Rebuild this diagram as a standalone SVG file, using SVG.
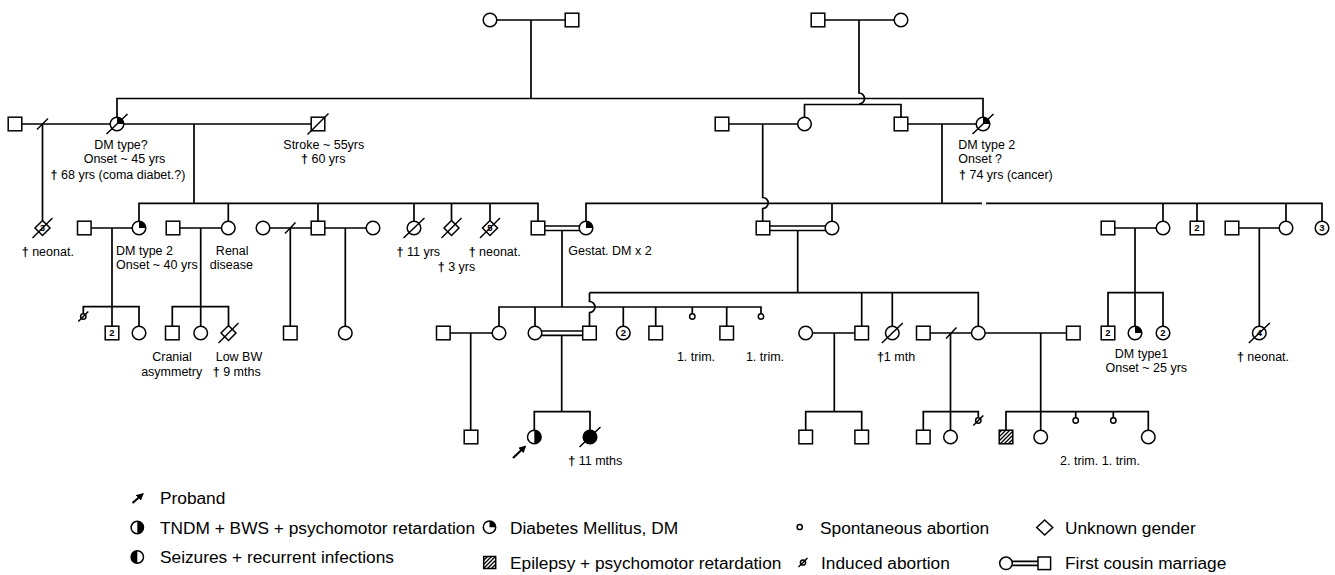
<svg xmlns="http://www.w3.org/2000/svg" width="1335" height="575" viewBox="0 0 1335 575">
<style>
.sy{fill:#fff;stroke:#000;stroke-width:1.5}
.k{fill:#000;stroke:none}
.ln{fill:none;stroke:#000;stroke-width:1.7}
.sl{fill:none;stroke:#000;stroke-width:1.5}
.t{font-family:"Liberation Sans",Arial,Helvetica,sans-serif;font-size:12.5px;fill:#000}
.m{text-anchor:middle}
.b{font-weight:bold}
.num{font-family:"Liberation Sans",Arial,Helvetica,sans-serif;font-size:9.5px;font-weight:bold;text-anchor:middle;fill:#000}
.lg{font-family:"Liberation Sans",Arial,Helvetica,sans-serif;font-size:17.3px;fill:#000}
.ar{fill:none;stroke:#000;stroke-width:2.2;marker-end:url(#arr)}
</style>
<defs>
<marker id="arr" viewBox="0 0 10 10" refX="3" refY="5" markerWidth="3.4" markerHeight="3.4" orient="auto"><path d="M0,0L10,5L0,10z" fill="#000"/></marker>
<pattern id="hatch" patternUnits="userSpaceOnUse" width="4" height="4"><path d="M-1,1L1,-1M0,4L4,0M3,5L5,3" stroke="#000" stroke-width="1.3"/></pattern>
</defs>
<rect width="1335" height="575" fill="#fff"/>

<g id="connectors">
<path class="ln" d="M496.8,20H565.2M531,20V98.5M825,20H894.2M859,20V93a5.5,5.5 0 0 1 0,11"/>
<path class="ln" d="M117,117.2V98.5H983V117.2M804.5,117.2V104.5H901V117.2"/>
<path class="ln" d="M21.8,124H110.2M123.8,124H311.2M42.5,124V220.5M194,124V203.3"/>
<path class="sl" d="M37,129.5L48,118.5"/>
<path class="ln" d="M728.8,124H797.7M762.7,124V197.5a5.5,5.5 0 0 1 0,11V221.2M907.8,124H976.2M942,124V203.3"/>
<path class="ln" d="M139,221.2V203.3H538V221.2M228.3,203.3V221.2M318,203.3V221.2M414,203.3V221.2M451.5,203.3V220.5M490,203.3V220.5"/>
<path class="ln" d="M586,221.2V203.3H982M986,203.3H1322V221.2M832,203.3V221.2M1163,203.3V221.2M1197,203.3V221.2M1286,203.3V221.2"/>
<path class="ln" d="M91.1,228H132.2M112,228V326.2M83.3,313.8V306.7H139V326.2"/>
<path class="ln" d="M179.8,228H221.5M200.7,228V326.2M172.3,326.2V306.7H228.5V325.5"/>
<path class="ln" d="M269.8,228H311.2M290.3,228V326.2M324.8,228H366.2M345.3,228V326.2"/>
<path class="sl" d="M285,233.5L295.5,222.5"/>
<path class="ln" d="M544.8,226H579.5M544.8,230.5H579.5M562,230.5V307"/>
<path class="ln" d="M769.8,226H825.5M769.8,230.5H825.5M797.7,230.5V292.7"/>
<path class="ln" d="M1114.8,228H1156.2M1135,228V326.2M1108,326.2V292.7H1163V326.2"/>
<path class="ln" d="M1238.8,228H1279.2M1259.3,228V326.2"/>
<path class="ln" d="M499,326.2V307H761V313.8M535,307V326.2M623.3,307V326.2M655.7,307V326.2M692.3,307V313.8M726.7,307V326.2"/>
<path class="ln" d="M589.5,292.7V301.5a5.5,5.5 0 0 1 0,11V326.2M589.5,292.7H978.3V326.2M861.7,292.7V326.2M892.3,292.7V326.2"/>
<path class="ln" d="M450.1,333H492.2M470.7,333V430.2"/>
<path class="ln" d="M541.8,331H582.7M541.8,335.3H582.7M561.7,335.3V411.7M534.3,430.2V411.7H590V430.2"/>
<path class="ln" d="M812.5,333H854.9M834.3,333V411.7M805.7,430.2V411.7H861.7V430.2"/>
<path class="ln" d="M930.1,333H971.5M950.5,333V430.2M923.3,430.2V411.7H978.3V417.8"/>
<path class="sl" d="M946,338.5L956.5,327.5"/>
<path class="ln" d="M985.1,333H1066.5M1040.7,333V430.2M1006,430.2V411.7H1148.3V430.2M1075.7,411.7V417.8M1113.3,411.7V417.8"/>
</g>

<g id="I-1"><circle class="sy" cx="490" cy="20" r="6.8"/></g>
<g id="I-2"><rect class="sy" x="565.2" y="13.2" width="13.6" height="13.6"/></g>
<g id="I-3"><rect class="sy" x="811.2" y="13.2" width="13.6" height="13.6"/></g>
<g id="I-4"><circle class="sy" cx="901" cy="20" r="6.8"/></g>

<g id="II-1"><rect class="sy" x="8.2" y="117.2" width="13.6" height="13.6"/></g>
<g id="II-2"><circle class="sy" cx="117" cy="124" r="6.8"/><path class="k" d="M117,124V117.2A6.8,6.8 0 0 1 123.8,124Z"/><path class="sl" d="M106.5,134L127.5,114"/>
<text class="t m" x="121" y="149.3">DM type?</text><text class="t m" x="124.5" y="163.3">Onset ~ 45 yrs</text><text class="t m" x="118" y="179"><tspan class="b">†</tspan> 68 yrs (coma diabet.?)</text></g>
<g id="II-3"><rect class="sy" x="311.2" y="117.2" width="13.6" height="13.6"/><path class="sl" d="M307.5,134.5L328.5,113.5"/>
<text class="t m" x="323.8" y="149.3">Stroke ~ 55yrs</text><text class="t m" x="323.3" y="163.3"><tspan class="b">†</tspan> 60 yrs</text></g>
<g id="II-4"><rect class="sy" x="715.2" y="117.2" width="13.6" height="13.6"/></g>
<g id="II-5"><circle class="sy" cx="804.5" cy="124" r="6.8"/></g>
<g id="II-6"><rect class="sy" x="894.2" y="117.2" width="13.6" height="13.6"/></g>
<g id="II-7"><circle class="sy" cx="983" cy="124" r="6.8"/><path class="k" d="M983,124V117.2A6.8,6.8 0 0 1 989.8,124Z"/><path class="sl" d="M972.5,134L993.5,114"/>
<text class="t" x="958.3" y="149.3">DM type 2</text><text class="t" x="958.3" y="163.3">Onset ?</text><text class="t" x="959" y="179"><tspan class="b">†</tspan> 74 yrs (cancer)</text></g>

<g id="III-1"><polygon class="sy" points="42.5,220.5 50,228 42.5,235.5 35,228"/><text class="num" x="42.5" y="231.4">3</text><path class="sl" d="M32.5,238L52.5,218"/>
<text class="t m" x="47.8" y="255.5"><tspan class="b">†</tspan> neonat.</text></g>
<g id="III-2"><rect class="sy" x="77.5" y="221.2" width="13.6" height="13.6"/></g>
<g id="III-3"><circle class="sy" cx="139" cy="228" r="6.8"/><path class="k" d="M139,228V221.2A6.8,6.8 0 0 1 145.8,228Z"/>
<text class="t" x="116" y="255">DM type 2</text><text class="t" x="116" y="269">Onset ~ 40 yrs</text></g>
<g id="III-4"><rect class="sy" x="166.2" y="221.2" width="13.6" height="13.6"/></g>
<g id="III-5"><circle class="sy" cx="228.3" cy="228" r="6.8"/><text class="t m" x="232.2" y="255">Renal</text><text class="t m" x="231.3" y="269">disease</text></g>
<g id="III-6"><circle class="sy" cx="263" cy="228" r="6.8"/></g>
<g id="III-7"><rect class="sy" x="311.2" y="221.2" width="13.6" height="13.6"/></g>
<g id="III-8"><circle class="sy" cx="373" cy="228" r="6.8"/></g>
<g id="III-9"><circle class="sy" cx="414" cy="228" r="6.8"/><path class="sl" d="M403.5,238L424.5,218"/><text class="t m" x="418.3" y="255.5"><tspan class="b">†</tspan> 11 yrs</text></g>
<g id="III-10"><polygon class="sy" points="451.5,220.5 459,228 451.5,235.5 444,228"/><path class="sl" d="M441.5,238L461.5,218"/><text class="t m" x="456.5" y="270.5"><tspan class="b">†</tspan> 3 yrs</text></g>
<g id="III-11"><polygon class="sy" points="490,220.5 497.5,228 490,235.5 482.5,228"/><text class="num" x="490" y="231.4">5</text><path class="sl" d="M480,238L500,218"/><text class="t m" x="494.7" y="255.5"><tspan class="b">†</tspan> neonat.</text></g>
<g id="III-12"><rect class="sy" x="531.2" y="221.2" width="13.6" height="13.6"/></g>
<g id="III-13"><circle class="sy" cx="586" cy="228" r="6.8"/><path class="k" d="M586,228V221.2A6.8,6.8 0 0 1 592.8,228Z"/><text class="t" x="568.3" y="254.5">Gestat. DM x 2</text></g>
<g id="III-14"><rect class="sy" x="756.2" y="221.2" width="13.6" height="13.6"/></g>
<g id="III-15"><circle class="sy" cx="832" cy="228" r="6.8"/></g>
<g id="III-16"><rect class="sy" x="1101.2" y="221.2" width="13.6" height="13.6"/></g>
<g id="III-17"><circle class="sy" cx="1163" cy="228" r="6.8"/></g>
<g id="III-18"><rect class="sy" x="1190.2" y="221.2" width="13.6" height="13.6"/><text class="num" x="1197" y="231.4">2</text></g>
<g id="III-19"><rect class="sy" x="1225.2" y="221.2" width="13.6" height="13.6"/></g>
<g id="III-20"><circle class="sy" cx="1286" cy="228" r="6.8"/></g>
<g id="III-21"><circle class="sy" cx="1322" cy="228" r="6.8"/><text class="num" x="1322" y="231.4">3</text></g>

<g id="IV-1"><circle class="sy" cx="83.3" cy="316.5" r="2.7"/><path class="sl" d="M78.3,321.5L88.3,311.5"/></g>
<g id="IV-2"><rect class="sy" x="105.2" y="326.2" width="13.6" height="13.6"/><text class="num" x="112" y="336.4">2</text></g>
<g id="IV-3"><circle class="sy" cx="139" cy="333" r="6.8"/></g>
<g id="IV-4"><rect class="sy" x="165.5" y="326.2" width="13.6" height="13.6"/><text class="t m" x="172" y="360.7">Cranial</text><text class="t m" x="171.7" y="375.7">asymmetry</text></g>
<g id="IV-5"><circle class="sy" cx="200.7" cy="333" r="6.8"/></g>
<g id="IV-6"><polygon class="sy" points="228.5,325.5 236,333 228.5,340.5 221,333"/><path class="sl" d="M218.5,343L238.5,323"/><text class="t m" x="239" y="360.7">Low BW</text><text class="t m" x="236.7" y="375.7"><tspan class="b">†</tspan> 9 mths</text></g>
<g id="IV-7"><rect class="sy" x="283.5" y="326.2" width="13.6" height="13.6"/></g>
<g id="IV-8"><circle class="sy" cx="345.3" cy="333" r="6.8"/></g>
<g id="IV-9"><rect class="sy" x="436.5" y="326.2" width="13.6" height="13.6"/></g>
<g id="IV-10"><circle class="sy" cx="499" cy="333" r="6.8"/></g>
<g id="IV-11"><circle class="sy" cx="535" cy="333" r="6.8"/></g>
<g id="IV-12"><rect class="sy" x="582.7" y="326.2" width="13.6" height="13.6"/></g>
<g id="IV-13"><circle class="sy" cx="623.3" cy="333" r="6.8"/><text class="num" x="623.3" y="336.4">2</text></g>
<g id="IV-14"><rect class="sy" x="648.9" y="326.2" width="13.6" height="13.6"/></g>
<g id="IV-15"><circle class="sy" cx="692.3" cy="316.5" r="2.7"/><text class="t m" x="696" y="361">1. trim.</text></g>
<g id="IV-16"><rect class="sy" x="719.9" y="326.2" width="13.6" height="13.6"/></g>
<g id="IV-17"><circle class="sy" cx="761" cy="316.5" r="2.7"/><text class="t m" x="765" y="361">1. trim.</text></g>
<g id="IV-18"><circle class="sy" cx="805.7" cy="333" r="6.8"/></g>
<g id="IV-19"><rect class="sy" x="854.9" y="326.2" width="13.6" height="13.6"/></g>
<g id="IV-20"><circle class="sy" cx="892.3" cy="333" r="6.8"/><path class="sl" d="M881.8,343L902.8,323"/><text class="t m" x="896" y="360.7"><tspan class="b">†</tspan>1 mth</text></g>
<g id="IV-21"><rect class="sy" x="916.5" y="326.2" width="13.6" height="13.6"/></g>
<g id="IV-22"><circle class="sy" cx="978.3" cy="333" r="6.8"/></g>
<g id="IV-23"><rect class="sy" x="1066.5" y="326.2" width="13.6" height="13.6"/></g>
<g id="IV-24"><rect class="sy" x="1101.2" y="326.2" width="13.6" height="13.6"/><text class="num" x="1108" y="336.4">2</text></g>
<g id="IV-25"><circle class="sy" cx="1135" cy="333" r="6.8"/><path class="k" d="M1135,333V326.2A6.8,6.8 0 0 1 1141.8,333Z"/><text class="t m" x="1141.5" y="357.7">DM type1</text><text class="t m" x="1146.3" y="371.7">Onset ~ 25 yrs</text></g>
<g id="IV-26"><circle class="sy" cx="1163" cy="333" r="6.8"/><text class="num" x="1163" y="336.4">2</text></g>
<g id="IV-27"><circle class="sy" cx="1259.3" cy="333" r="6.8"/><text class="num" x="1259.3" y="336.4">4</text><path class="sl" d="M1248.8,343L1269.8,323"/><text class="t m" x="1263" y="360.7"><tspan class="b">†</tspan> neonat.</text></g>

<g id="V-1"><rect class="sy" x="464.2" y="430.2" width="13.6" height="13.6"/></g>
<g id="V-2"><circle class="sy" cx="534.3" cy="437" r="6.8"/><path class="k" d="M534.3,430.2A6.8,6.8 0 0 1 534.3,443.8Z"/><path class="ar" d="M513,458L522.5,449"/></g>
<g id="V-3"><circle cx="590" cy="437" r="6.8" fill="#000" stroke="#000" stroke-width="1.5"/><path class="sl" d="M579.5,447L600.5,427"/><text class="t m" x="595.3" y="465"><tspan class="b">†</tspan> 11 mths</text></g>
<g id="V-4"><rect class="sy" x="798.9" y="430.2" width="13.6" height="13.6"/></g>
<g id="V-5"><rect class="sy" x="854.9" y="430.2" width="13.6" height="13.6"/></g>
<g id="V-6"><rect class="sy" x="916.5" y="430.2" width="13.6" height="13.6"/></g>
<g id="V-7"><circle class="sy" cx="950.5" cy="437" r="6.8"/></g>
<g id="V-8"><circle class="sy" cx="978.3" cy="420.5" r="2.7"/><path class="sl" d="M973.3,425.5L983.3,415.5"/></g>
<g id="V-9"><rect x="999.2" y="430.2" width="13.6" height="13.6" fill="url(#hatch)" stroke="#000" stroke-width="1.5"/></g>
<g id="V-10"><circle class="sy" cx="1040.7" cy="437" r="6.8"/></g>
<g id="V-11"><circle class="sy" cx="1075.7" cy="420.5" r="2.7"/></g>
<g id="V-12"><circle class="sy" cx="1113.3" cy="420.5" r="2.7"/></g>
<g id="V-13"><circle class="sy" cx="1148.3" cy="437" r="6.8"/></g>
<text class="t m" x="1100" y="465">2. trim. 1. trim.</text>

<g id="legend">
<path class="ar" d="M132.5,503L140,496.5"/>
<text class="lg" x="160" y="504">Proband</text>
<circle class="sy" cx="137.3" cy="527.5" r="6.2"/><path class="k" d="M137.3,521.3A6.2,6.2 0 0 1 137.3,533.7Z"/>
<text class="lg" x="160" y="533.5">TNDM + BWS + psychomotor retardation</text>
<circle class="sy" cx="137.3" cy="557" r="6.2"/><path class="k" d="M137.3,550.8A6.2,6.2 0 0 0 137.3,563.2Z"/>
<text class="lg" x="160" y="563">Seizures + recurrent infections</text>
<circle class="sy" cx="489.5" cy="527.2" r="6.2"/><path class="k" d="M489.5,527.2V521A6.2,6.2 0 0 1 495.7,527.2Z"/>
<text class="lg" x="510" y="533.5">Diabetes Mellitus, DM</text>
<rect x="483.7" y="556.5" width="12" height="12" fill="url(#hatch)" stroke="#000" stroke-width="1.5"/>
<text class="lg" x="510" y="569">Epilepsy + psychomotor retardation</text>
<circle class="sy" cx="799.7" cy="527" r="2.6"/>
<text class="lg" x="820" y="533.5">Spontaneous abortion</text>
<circle class="sy" cx="803" cy="562.5" r="2.6"/><path class="sl" d="M798.5,567L807.5,558"/>
<text class="lg" x="821" y="569">Induced abortion</text>
<polygon class="sy" points="1044.7,520 1052.7,527.5 1044.7,535 1036.7,527.5"/>
<text class="lg" x="1065" y="533.5">Unknown gender</text>
<path class="ln" d="M1012.3,561.3H1038M1012.3,565.3H1038"/>
<circle class="sy" cx="1006" cy="563.3" r="6.3"/><rect class="sy" x="1038" y="557" width="12.6" height="12.6"/>
<text class="lg" x="1065" y="569">First cousin marriage</text>
</g>
</svg>
